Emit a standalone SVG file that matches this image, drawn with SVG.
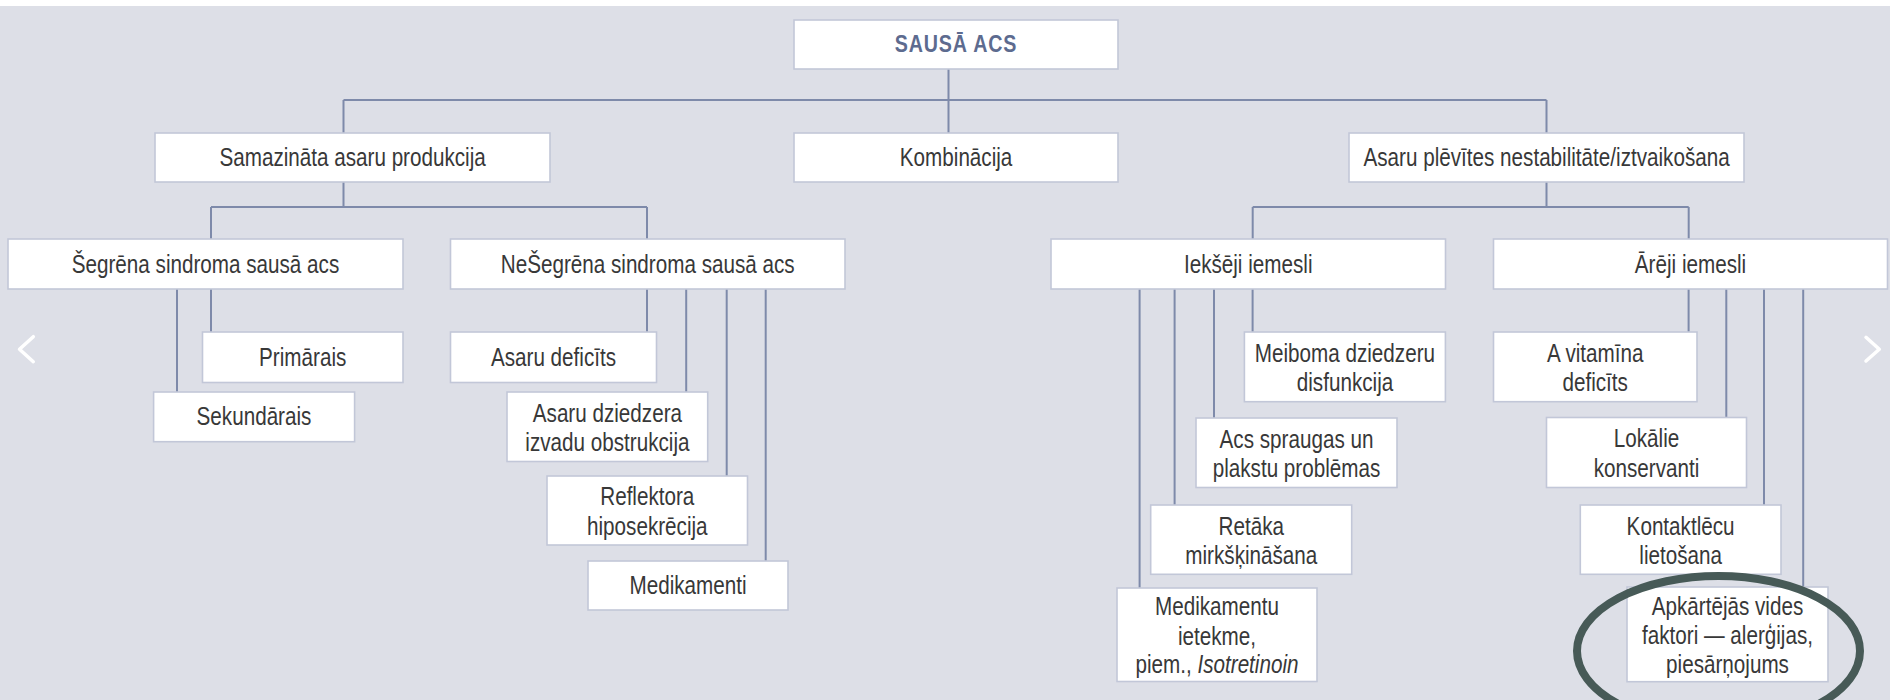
<svg xmlns="http://www.w3.org/2000/svg" width="1890" height="700" viewBox="0 0 1890 700">
<style>
.bx{fill:#ffffff;stroke:#c2c7d8;stroke-width:1.6}
.t{font-family:"Liberation Sans",Arial,sans-serif;font-size:26px;fill:#383838;text-anchor:middle;transform-box:fill-box;transform-origin:center;transform:scaleX(0.795)}
.h{font-family:"Liberation Sans",Arial,sans-serif;font-size:24px;font-weight:bold;fill:#5d6b8f;text-anchor:middle;letter-spacing:1px;transform-box:fill-box;transform-origin:center;transform:scaleX(0.82)}
.c{stroke:#7e8aaa;stroke-width:2;fill:none}
.nav{stroke:#ffffff;stroke-width:3.5;fill:none;stroke-linecap:round;stroke-linejoin:round}
</style>
<rect x="0" y="0" width="1890" height="700" fill="#ffffff"/>
<rect x="0" y="6" width="1890" height="694" fill="#dddfe7"/>
<g id="connectors">
<path class="c" d="M343.5 100H1546.5M948.5 69V133M343.5 100V133M343.5 182V207M211 207H647M211 207V239M647 207V239M1546.5 100V133M1546.5 182V207M1252.7 207H1688.7M1252.7 207V239M1688.7 207V239"/>
<path class="c" d="M211 289V332M177 289V392M647 289V332M686.2 289V392M726.7 289V476M765.7 289V561"/>
<path class="c" d="M1252.6 289V332M1214 289V418M1174.6 289V505M1139.6 289V588M1688.6 289V332M1726.3 289V417.5M1764 289V505M1803.2 289V587"/>
</g>
<g id="n-root"><rect class="bx" x="794" y="20" width="324" height="49"/><text class="h" x="956" y="52.5">SAUSĀ ACS</text></g>
<g id="n-samazinata"><rect class="bx" x="155" y="133" width="395" height="49"/><text class="t" x="352.5" y="166.5">Samazināta asaru produkcija</text></g>
<g id="n-kombinacija"><rect class="bx" x="794" y="133" width="324" height="49"/><text class="t" x="956" y="166.5">Kombinācija</text></g>
<g id="n-plevite"><rect class="bx" x="1349" y="133" width="395" height="49"/><text class="t" x="1546.5" y="166.5">Asaru plēvītes nestabilitāte/iztvaikošana</text></g>
<g id="n-segrena"><rect class="bx" x="8" y="239" width="395" height="50"/><text class="t" x="205.5" y="273">Šegrēna sindroma sausā acs</text></g>
<g id="n-nesegrena"><rect class="bx" x="450.5" y="239" width="394.5" height="50"/><text class="t" x="647.7" y="273">NeŠegrēna sindroma sausā acs</text></g>
<g id="n-ieksejie"><rect class="bx" x="1051" y="239" width="394.5" height="50"/><text class="t" x="1248.2" y="273">Iekšēji iemesli</text></g>
<g id="n-arejie"><rect class="bx" x="1493.5" y="239" width="394" height="50"/><text class="t" x="1690.5" y="273">Ārēji iemesli</text></g>
<g id="n-primarais"><rect class="bx" x="202.5" y="332" width="200.5" height="50.5"/><text class="t" x="302.7" y="366">Primārais</text></g>
<g id="n-sekundarais"><rect class="bx" x="153.6" y="392" width="201" height="49.7"/><text class="t" x="254" y="425.5">Sekundārais</text></g>
<g id="n-deficits"><rect class="bx" x="450.5" y="332" width="206" height="50.5"/><text class="t" x="553.5" y="366">Asaru deficīts</text></g>
<g id="n-dziedzera"><rect class="bx" x="507" y="392" width="200.7" height="69.5"/><text class="t" x="607.3" y="422">Asaru dziedzera</text><text class="t" x="607.3" y="451.5">izvadu obstrukcija</text></g>
<g id="n-reflektora"><rect class="bx" x="547" y="476" width="200.5" height="69"/><text class="t" x="647.2" y="505.5">Reflektora</text><text class="t" x="647.2" y="535">hiposekrēcija</text></g>
<g id="n-medikamenti"><rect class="bx" x="588" y="561" width="200" height="49"/><text class="t" x="688" y="594">Medikamenti</text></g>
<g id="n-meiboma"><rect class="bx" x="1244.4" y="332" width="201" height="69.7"/><text class="t" x="1344.9" y="362">Meiboma dziedzeru</text><text class="t" x="1344.9" y="391.5">disfunkcija</text></g>
<g id="n-spraugas"><rect class="bx" x="1196" y="418" width="201" height="69.5"/><text class="t" x="1296.5" y="448">Acs spraugas un</text><text class="t" x="1296.5" y="477.5">plakstu problēmas</text></g>
<g id="n-retaka"><rect class="bx" x="1150.7" y="505" width="201" height="69.3"/><text class="t" x="1251.2" y="535">Retāka</text><text class="t" x="1251.2" y="564.5">mirkšķināšana</text></g>
<g id="n-ietekme"><rect class="bx" x="1117" y="588" width="200" height="93.5"/><text class="t" x="1217" y="615.5">Medikamentu</text><text class="t" x="1217" y="645">ietekme,</text><text class="t" x="1217" y="673.5">piem., <tspan font-style="italic">Isotretinoin</tspan></text></g>
<g id="n-vitamina"><rect class="bx" x="1493.5" y="332" width="203.5" height="69.7"/><text class="t" x="1595.2" y="362">A vitamīna</text><text class="t" x="1595.2" y="391.5">deficīts</text></g>
<g id="n-lokalie"><rect class="bx" x="1546.5" y="417.5" width="200" height="70"/><text class="t" x="1646.5" y="447.5">Lokālie</text><text class="t" x="1646.5" y="477">konservanti</text></g>
<g id="n-kontaktlecu"><rect class="bx" x="1580.3" y="505" width="200.7" height="69.3"/><text class="t" x="1680.6" y="535">Kontaktlēcu</text><text class="t" x="1680.6" y="564.5">lietošana</text></g>
<g id="n-apkartejas"><rect class="bx" x="1627" y="587" width="201" height="94.7"/><text class="t" x="1727.5" y="615.5">Apkārtējās vides</text><text class="t" x="1727.5" y="644.5">faktori — alerģijas,</text><text class="t" x="1727.5" y="673.5">piesārņojums</text></g>
<ellipse cx="1718.5" cy="651" rx="141.5" ry="75" fill="none" stroke="#475a57" stroke-width="8"/>
<polyline class="nav" points="33.3,336.7 19.5,349.2 33.3,361.7"/>
<polyline class="nav" points="1866,337.3 1879.3,349.3 1866,361"/>
</svg>
